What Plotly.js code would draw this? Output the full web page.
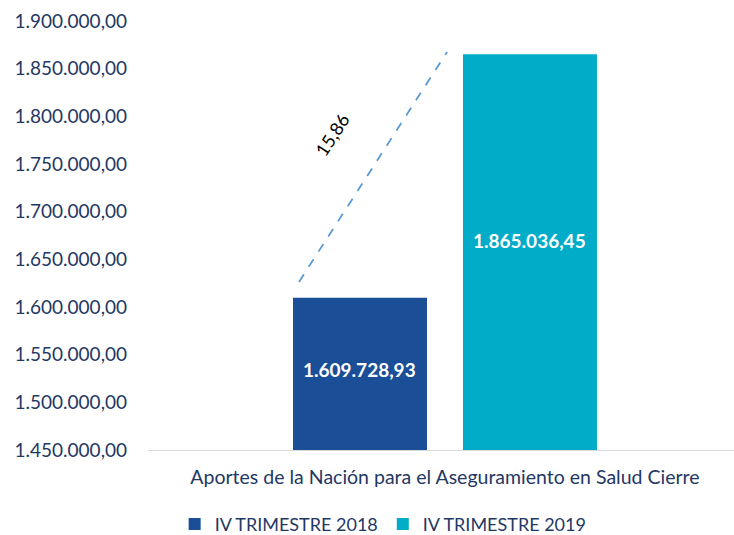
<!DOCTYPE html>
<html>
<head>
<meta charset="utf-8">
<script src="https://cdn.plot.ly/plotly-3.0.1.min.js"></script>
<style>html,body{margin:0;padding:0;background:#fff;}#chart{width:734px;height:535px;}</style>
</head>
<body>
<div id="chart"></div>
<script>
const category = ["Aportes de la Nación para el Aseguramiento en Salud Cierre"];
const seriesNames = ["IV TRIMESTRE 2018", "IV TRIMESTRE 2019"];
const values2018 = [1609728.93];
const values2019 = [1865036.45];
const colors = ["#1A4E96", "#00ACC8"];
const yMin = 1450000, yMax = 1900000;

function fmt(v) {
  const parts = v.toFixed(2).split(".");
  return parts[0].replace(/\B(?=(\d{3})+(?!\d))/g, ".") + "," + parts[1];
}
const growth = ((values2019[0] / values2018[0]) - 1) * 100;
const growthText = growth.toFixed(2).replace(".", ",");

const font = "Lato, 'Open Sans', sans-serif";
const barW = 0.2287, halfGap = 0.0307;
const offs = [-(barW + halfGap), halfGap];
const traces = [
  {type: "bar", name: seriesNames[0], x: category, y: values2018, width: barW, offset: offs[0], marker: {color: colors[0]}, hoverinfo: "none"},
  {type: "bar", name: seriesNames[1], x: category, y: values2019, width: barW, offset: offs[1], marker: {color: colors[1]}, hoverinfo: "none"}
];

const xs = offs.map(o => o + barW / 2);
const vals = [values2018[0], values2019[0]];
const annotations = vals.map((v, i) => ({
  x: xs[i], y: yMin + 0.53 * (v - yMin), xref: "x", yref: "y",
  text: "<b>" + fmt(v) + "</b>", showarrow: false,
  font: {family: font, size: 19, color: "#ffffff"}
}));
annotations.push({
  x: offs[0] + 0.29 * barW, y: vals[1] - 0.33 * (vals[1] - vals[0]), xref: "x", yref: "y",
  text: growthText, showarrow: false, textangle: -57,
  font: {family: font, size: 18, color: "#000000"}
});

const layout = {
  width: 734, height: 535,
  margin: {l: 148, r: 0, t: 21, b: 85},
  paper_bgcolor: "#ffffff", plot_bgcolor: "#ffffff",
  separators: ",.",
  barmode: "group",
  showlegend: true,
  legend: {orientation: "h", xref: "container", yref: "container", x: 0.522, xanchor: "center", y: 0.02, yanchor: "middle",
    font: {family: font, size: 18, color: "#1F3864"}, itemwidth: 30, traceorder: "normal"},
  xaxis: {type: "category", range: [-0.5068, 0.4932], showgrid: false, zeroline: false,
    showline: true, linecolor: "#D9D9D9", linewidth: 1, ticks: "", ticklabelstandoff: 10,
    tickfont: {family: font, size: 19.5, color: "#1F3864"}, fixedrange: true},
  yaxis: {range: [yMin, yMax], dtick: 50000, tick0: yMin, tickformat: ",.2f",
    showgrid: false, zeroline: false, showline: false, ticks: "", ticklabelstandoff: 20,
    tickfont: {family: font, size: 19, color: "#1F3864"}, fixedrange: true},
  shapes: [{
    type: "line", xref: "x", yref: "y",
    x0: offs[0] + 0.045 * barW, y0: vals[0] + 0.065 * (vals[1] - vals[0]),
    x1: offs[0] + barW + 0.15 * barW, y1: vals[1] + 0.01 * (vals[1] - vals[0]),
    line: {color: "#5B9BD5", width: 1.8, dash: "dash"}
  }],
  annotations: annotations
};
Plotly.newPlot("chart", traces, layout, {displayModeBar: false, staticPlot: true});
</script>
</body>
</html>
